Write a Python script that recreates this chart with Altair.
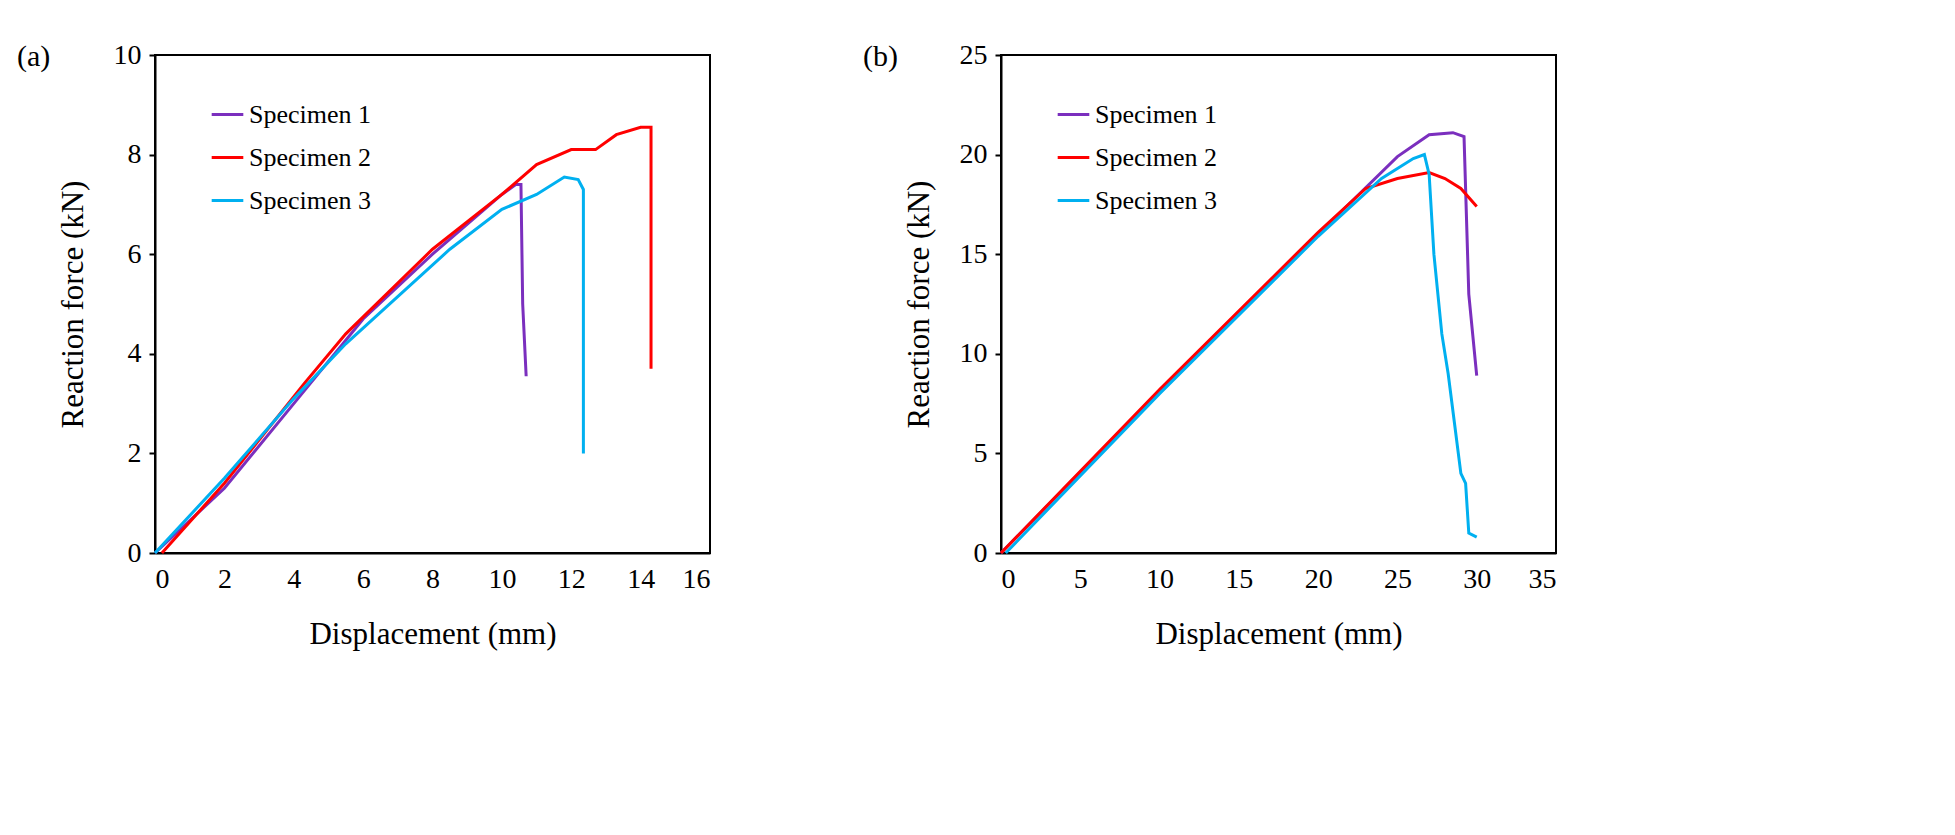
import altair as alt
import pandas as pd

SPECS = ["Specimen 1", "Specimen 2", "Specimen 3"]
COLORS = ["#7b2fbe", "#ff0000", "#00b0f0"]

# panel (a)
a1_x = [0, 2, 4, 6, 8, 10, 10.4, 10.55, 10.6, 10.7]
a1_y = [0, 1.3, 3.0, 4.7, 6.0, 7.2, 7.4, 7.4, 5.0, 3.55]
a2_x = [0.2, 2, 4.3, 5.5, 8, 10, 11, 12, 12.7, 13.3, 14, 14.3, 14.3]
a2_y = [0, 1.4, 3.4, 4.4, 6.1, 7.2, 7.8, 8.1, 8.1, 8.4, 8.55, 8.55, 3.7]
a3_x = [0, 2, 4, 5.5, 8.5, 10, 11, 11.8, 12.2, 12.35, 12.35]
a3_y = [0, 1.5, 3.1, 4.2, 6.1, 6.9, 7.2, 7.55, 7.5, 7.3, 2.0]

# panel (b)
b1_x = [0, 10, 20, 25, 27, 28.5, 29.2, 29.5, 30]
b1_y = [0, 8.1, 16.0, 19.9, 21.0, 21.1, 20.9, 13, 8.9]
b2_x = [0, 10, 20, 23, 25, 27, 28, 29, 30]
b2_y = [0, 8.2, 16.1, 18.3, 18.8, 19.1, 18.8, 18.3, 17.4]
b3_x = [0.3, 10, 20, 24, 26, 26.7, 27, 27.3, 27.8, 28.2, 28.6, 29, 29.3, 29.5, 30]
b3_y = [0, 8.0, 15.9, 18.8, 19.8, 20.0, 19.0, 15, 11, 9, 6.5, 4, 3.5, 1, 0.8]


def frame(series):
    rows = []
    for name, xs, ys in series:
        for i, (x, y) in enumerate(zip(xs, ys)):
            rows.append({"spec": name, "x": x, "y": y, "i": i})
    return pd.DataFrame(rows)


FONT = "Liberation Serif"


def panel(df, xmax, xstep, ymax, ystep, label, lx, ly):
    base = alt.Chart(df).mark_line(strokeWidth=3).encode(
        x=alt.X("x:Q", title="Displacement  (mm)",
                scale=alt.Scale(domain=[0, xmax], nice=False),
                axis=alt.Axis(values=list(range(0, xmax + 1, xstep)), grid=False,
                              tickSize=0, titlePadding=26, labelPadding=12)),
        y=alt.Y("y:Q", title="Reaction  force  (kN)",
                scale=alt.Scale(domain=[0, ymax], nice=False),
                axis=alt.Axis(values=list(range(0, ymax + 1, ystep)), grid=False,
                              tickSize=6, labelPadding=8, titlePadding=24)),
        color=alt.Color("spec:N", scale=alt.Scale(domain=SPECS, range=COLORS),
                        legend=alt.Legend(title=None, orient="none", legendX=lx,
                                          legendY=ly, symbolType="stroke",
                                          symbolStrokeWidth=3, symbolSize=1000,
                                          labelFontSize=26, labelFont=FONT,
                                          rowPadding=12, labelColor="black")),
        order="i:Q",
    )
    tag = alt.Chart(pd.DataFrame({"t": [label]})).mark_text(
        font=FONT, fontSize=30, align="left", baseline="middle"
    ).encode(text="t:N", x=alt.value(-138), y=alt.value(2))
    return alt.layer(base, tag).properties(width=555, height=498)


pa = panel(frame([(SPECS[0], a1_x, a1_y), (SPECS[1], a2_x, a2_y), (SPECS[2], a3_x, a3_y)]),
           16, 2, 10, 2, "(a)", 55, 42)
pb = panel(frame([(SPECS[0], b1_x, b1_y), (SPECS[1], b2_x, b2_y), (SPECS[2], b3_x, b3_y)]),
           35, 5, 25, 5, "(b)", 55, 42)

chart = alt.hconcat(pa, pb, spacing=150).resolve_scale(color="independent").properties(
    padding={"left": 8, "top": 32, "right": 10, "bottom": 10}
).configure_axis(
    labelFont=FONT, titleFont=FONT, labelFontSize=28, titleFontSize=31,
    titleFontWeight="normal", labelColor="black", titleColor="black",
    domainColor="black", tickColor="black", domainWidth=2, tickWidth=2,
).configure_view(
    stroke="black", strokeWidth=2
)

chart.save("out.html", embed_options={"renderer": "svg", "actions": False})
